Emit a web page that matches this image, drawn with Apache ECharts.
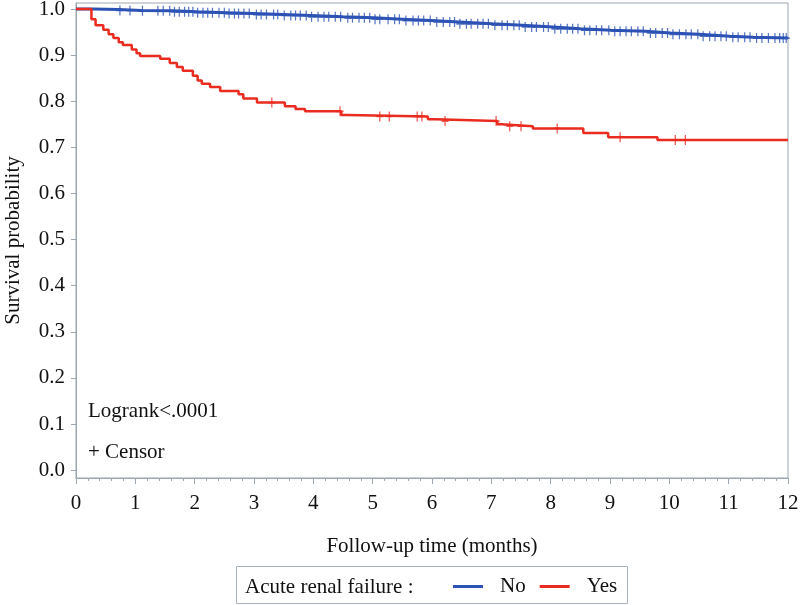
<!DOCTYPE html>
<html>
<head>
<meta charset="utf-8">
<script src="https://cdn.jsdelivr.net/npm/echarts@6/dist/echarts.min.js"></script>
<style>html,body{margin:0;padding:0;background:#fff}#c{width:800px;height:605px}</style>
</head>
<body>
<div id="c"></div>
<script>
// Kaplan-Meier step data
var noTimes  = [0, 0.3, 0.72, 1.1, 1.62, 2.04, 2.52, 3.0, 3.48, 3.96, 4.5, 5.02, 5.5, 5.98, 6.46, 7.02, 7.52, 8.04, 8.5, 9.02, 9.6, 10.02, 10.5, 11.02, 11.42, 12];
var noSurv   = [1.0, 0.999, 0.997, 0.996, 0.994, 0.992, 0.990, 0.988, 0.986, 0.983, 0.981, 0.978, 0.975, 0.972, 0.968, 0.965, 0.961, 0.957, 0.954, 0.952, 0.948, 0.945, 0.941, 0.939, 0.937, 0.936];
var yesTimes = [0, 0.26, 0.33, 0.46, 0.55, 0.63, 0.72, 0.79, 0.94, 1.02, 1.08, 1.42, 1.58, 1.7, 1.8, 1.97, 2.05, 2.12, 2.26, 2.43, 2.74, 2.82, 3.05, 3.52, 3.7, 3.86, 4.47, 4.57, 5.93, 6.05, 7.1, 7.17, 7.7, 8.55, 8.97, 9.8, 12];
var yesSurv  = [1.0, 0.978, 0.965, 0.955, 0.945, 0.937, 0.928, 0.922, 0.912, 0.904, 0.898, 0.892, 0.883, 0.874, 0.866, 0.855, 0.845, 0.838, 0.831, 0.822, 0.815, 0.806, 0.797, 0.789, 0.783, 0.778, 0.770, 0.767, 0.761, 0.757, 0.750, 0.746, 0.741, 0.731, 0.722, 0.716, 0.716];
var noCensor = [0.74, 0.91, 1.12, 1.38, 1.47, 1.58, 1.66, 1.74, 1.83, 1.9, 1.97, 2.05, 2.14, 2.22, 2.3, 2.41, 2.5, 2.58, 2.67, 2.74, 2.83, 2.92, 3.04, 3.12, 3.21, 3.33, 3.4, 3.51, 3.62, 3.7, 3.78, 3.88, 3.97, 4.08, 4.18, 4.26, 4.37, 4.46, 4.58, 4.66, 4.77, 4.86, 4.95, 5.04, 5.12, 5.26, 5.37, 5.45, 5.56, 5.68, 5.77, 5.86, 5.97, 6.08, 6.19, 6.3, 6.38, 6.47, 6.58, 6.66, 6.77, 6.86, 6.95, 7.06, 7.18, 7.27, 7.38, 7.47, 7.57, 7.68, 7.76, 7.88, 7.96, 8.07, 8.17, 8.28, 8.37, 8.46, 8.57, 8.66, 8.77, 8.86, 8.98, 9.08, 9.17, 9.27, 9.36, 9.47, 9.56, 9.68, 9.77, 9.88, 9.97, 10.06, 10.17, 10.28, 10.37, 10.48, 10.57, 10.68, 10.77, 10.87, 10.96, 11.07, 11.16, 11.27, 11.36, 11.47, 11.56, 11.67, 11.78, 11.86, 11.92, 11.97];
var yesCensor = [3.3, 4.45, 5.12, 5.28, 5.75, 5.83, 6.22, 7.08, 7.31, 7.5, 8.11, 9.17, 10.1, 10.27];
var yTicks = [0,0.1,0.2,0.3,0.4,0.5,0.6,0.7,0.8,0.9,1.0];

var FONT = 'Liberation Serif';
var BLUE = '#2c52b4', RED = '#ea2b1f', FRAME = '#9aa6b2';

function pairs(t, v){ return t.map(function(x,i){ return [x, v[i]]; }); }
function lookup(t, v, x){ var s=v[0]; for (var i=0;i<t.length;i++){ if (t[i]<=x) s=v[i]; } return s; }
function censorPts(ct, t, v){ return ct.map(function(x){ return [x, lookup(t, v, x)]; }); }

var plus = 'path://M-0.7,-4L0.7,-4L0.7,-0.7L4,-0.7L4,0.7L0.7,0.7L0.7,4L-0.7,4L-0.7,0.7L-4,0.7L-4,-0.7L-0.7,-0.7Z';

var chart = echarts.init(document.getElementById('c'), null, {renderer:'canvas'});
chart.setOption({
  animation: false,
  backgroundColor: '#fff',
  grid: {left: 76, right: 12, top: 3, bottom: 127, show: true, borderColor: FRAME, borderWidth: 1,
    containLabel: false, outerBoundsMode: 'none'},
  xAxis: {
    type: 'value', min: 0, max: 12, interval: 1,
    name: 'Follow-up time (months)', nameLocation: 'middle', nameGap: 58,
    nameTextStyle: {fontFamily: FONT, fontSize: 21, color: '#111'},
    axisLine: {show: true, onZero: false, lineStyle: {color: FRAME, width: 1}},
    axisTick: {show: true, inside: false, length: 6, lineStyle: {color: FRAME}},
    minorTick: {show: true, splitNumber: 5, length: 3, lineStyle: {color: FRAME}},
    axisLabel: {fontFamily: FONT, fontSize: 21, color: '#111', margin: 15, showMinLabel: true, showMaxLabel: true},
    splitLine: {show: false}
  },
  yAxis: {
    type: 'value', min: -0.017, max: 1.013,
    name: 'Survival probability', nameLocation: 'middle', nameGap: 52, nameRotate: 90,
    nameTextStyle: {fontFamily: FONT, fontSize: 21, color: '#111'},
    axisLine: {show: true, onZero: false, lineStyle: {color: FRAME, width: 1}},
    axisTick: {show: true, inside: false, length: 5, customValues: yTicks, lineStyle: {color: FRAME}},
    axisLabel: {fontFamily: FONT, fontSize: 21, color: '#111', margin: 11, customValues: yTicks,
      formatter: function(v){ return v.toFixed(1); }},
    splitLine: {show: false}
  },
  legend: {
    data: ['No', 'Yes'], left: 453, top: 576, padding: 0, itemGap: 14,
    icon: 'rect', itemWidth: 30, itemHeight: 3,
    textStyle: {fontFamily: FONT, fontSize: 21, color: '#111', padding: [0, 0, 0, 12]}
  },
  graphic: [
    {type: 'rect', shape: {x: 236.5, y: 566.5, width: 391, height: 37}, style: {fill: 'none', stroke: '#aab4be', lineWidth: 1}},
    {type: 'text', x: 245, y: 587, style: {text: 'Acute renal failure :', font: '21px "Liberation Serif"', fill: '#111', textVerticalAlign: 'middle'}},
    {type: 'text', x: 88, y: 411, style: {text: 'Logrank<.0001', font: '21px "Liberation Serif"', fill: '#111', textVerticalAlign: 'middle'}},
    {type: 'text', x: 88, y: 452, style: {text: '+ Censor', font: '21px "Liberation Serif"', fill: '#111', textVerticalAlign: 'middle'}}
  ],
  series: [
    {name: 'No', type: 'line', step: 'end', data: pairs(noTimes, noSurv), showSymbol: false, symbol: 'none',
      lineStyle: {color: BLUE, width: 3}, itemStyle: {color: BLUE}, z: 3},
    {name: 'Yes', type: 'line', step: 'end', data: pairs(yesTimes, yesSurv), showSymbol: false, symbol: 'none',
      lineStyle: {color: RED, width: 2.5}, itemStyle: {color: RED}, z: 3},
    {name: 'No censor', type: 'scatter', data: censorPts(noCensor, noTimes, noSurv), symbol: plus, symbolSize: [7, 10],
      itemStyle: {color: BLUE}, z: 4},
    {name: 'Yes censor', type: 'scatter', data: censorPts(yesCensor, yesTimes, yesSurv), symbol: plus, symbolSize: [7, 10],
      itemStyle: {color: RED}, z: 4}
  ]
});
</script>
</body>
</html>
